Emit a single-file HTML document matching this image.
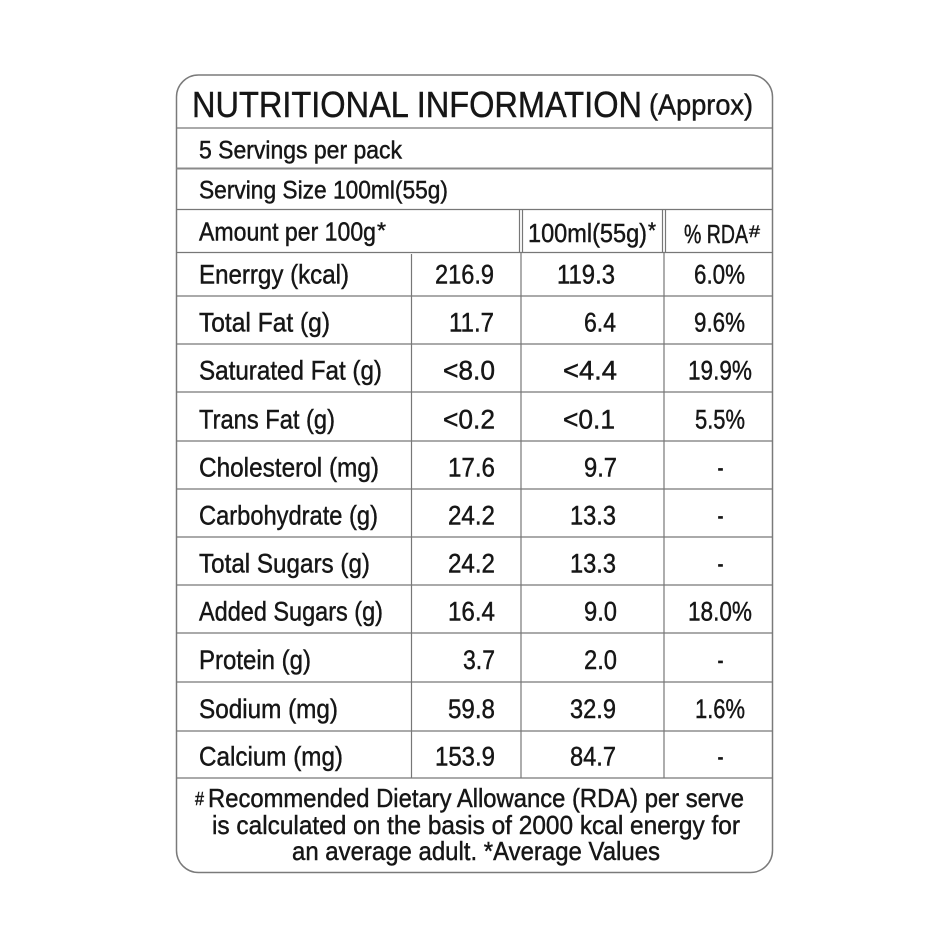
<!DOCTYPE html>
<html>
<head>
<meta charset="utf-8">
<style>
  html,body{margin:0;padding:0;background:#fff;}
  svg{display:block;}
  text{font-family:"Liberation Sans", Arial, sans-serif; fill:#161616; stroke:#161616; stroke-width:0.45;}
</style>
</head>
<body>
<svg width="940" height="940" viewBox="0 0 940 940" xmlns="http://www.w3.org/2000/svg">
  <rect x="0" y="0" width="940" height="940" fill="#fff"/>
  <!-- outer rounded box -->
  <rect x="176.5" y="75" width="596" height="797.5" rx="22" ry="22" fill="none" stroke="#7a7a7a" stroke-width="1.5"/>

  <!-- horizontal lines -->
  <g stroke="#777" stroke-width="1.3">
    <line x1="176.5" y1="128" x2="772.5" y2="128"/>
    <line x1="176.5" y1="168.5" x2="772.5" y2="168.5" stroke-width="2" stroke="#8a8a8a"/>
    <line x1="176.5" y1="209.5" x2="772.5" y2="209.5"/>
    <line x1="176.5" y1="252.5" x2="772.5" y2="252.5"/>
    <line x1="176.5" y1="296" x2="772.5" y2="296"/>
    <line x1="176.5" y1="344" x2="772.5" y2="344"/>
    <line x1="176.5" y1="392" x2="772.5" y2="392"/>
    <line x1="176.5" y1="441" x2="772.5" y2="441"/>
    <line x1="176.5" y1="489" x2="772.5" y2="489"/>
    <line x1="176.5" y1="537" x2="772.5" y2="537"/>
    <line x1="176.5" y1="585" x2="772.5" y2="585"/>
    <line x1="176.5" y1="633" x2="772.5" y2="633"/>
    <line x1="176.5" y1="682" x2="772.5" y2="682"/>
    <line x1="176.5" y1="731" x2="772.5" y2="731"/>
    <line x1="176.5" y1="778" x2="772.5" y2="778"/>
  </g>
  <!-- vertical lines -->
  <g stroke="#777" stroke-width="1.2">
    <line x1="411.5" y1="254" x2="411.5" y2="778"/>
    <line x1="519.5" y1="209.5" x2="519.5" y2="252.5"/>
    <line x1="522.5" y1="209.5" x2="522.5" y2="252.5"/>
    <line x1="521" y1="252.5" x2="521" y2="778"/>
    <line x1="662.5" y1="209.5" x2="662.5" y2="252.5"/>
    <line x1="665.5" y1="209.5" x2="665.5" y2="252.5"/>
    <line x1="664" y1="252.5" x2="664" y2="778"/>
  </g>

  <!-- title -->
  <text x="192" y="117" font-size="36" stroke-width="0.6" textLength="450" lengthAdjust="spacingAndGlyphs">NUTRITIONAL INFORMATION</text>
  <text x="649" y="114.5" font-size="29" textLength="104" lengthAdjust="spacingAndGlyphs">(Approx)</text>

  <text x="199" y="158.5" font-size="25" textLength="203" lengthAdjust="spacingAndGlyphs">5 Servings per pack</text>
  <text x="199" y="198.5" font-size="25" textLength="249" lengthAdjust="spacingAndGlyphs">Serving Size 100ml(55g)</text>

  <!-- header row -->
  <text x="199" y="240.5" font-size="26" textLength="177" lengthAdjust="spacingAndGlyphs">Amount per 100g</text>
  <text x="377" y="238" font-size="22" textLength="9" lengthAdjust="spacingAndGlyphs">*</text>
  <text x="528" y="242" font-size="26" textLength="119" lengthAdjust="spacingAndGlyphs">100ml(55g)</text>
  <text x="648" y="238" font-size="22" textLength="8" lengthAdjust="spacingAndGlyphs">*</text>
  <text x="684" y="243" font-size="26" textLength="64" lengthAdjust="spacingAndGlyphs">% RDA</text>
  <text x="749" y="237" font-size="17" textLength="11" lengthAdjust="spacingAndGlyphs">#</text>

  <!-- data rows -->
  <g font-size="27">
    <!-- Energy -->
    <text x="199" y="283.5" textLength="150" lengthAdjust="spacingAndGlyphs">Enerrgy (kcal)</text>
    <text x="435" y="283.5" textLength="59" lengthAdjust="spacingAndGlyphs">216.9</text>
    <text x="557" y="283.5" textLength="58" lengthAdjust="spacingAndGlyphs">119.3</text>
    <text x="694" y="283.5" textLength="51" lengthAdjust="spacingAndGlyphs">6.0%</text>

    <!-- Total Fat -->
    <text x="199" y="331.5" textLength="131" lengthAdjust="spacingAndGlyphs">Total Fat (g)</text>
    <text x="449" y="331.5" textLength="45" lengthAdjust="spacingAndGlyphs">11.7</text>
    <text x="584" y="331.5" textLength="32" lengthAdjust="spacingAndGlyphs">6.4</text>
    <text x="694" y="331.5" textLength="51" lengthAdjust="spacingAndGlyphs">9.6%</text>

    <!-- Saturated Fat -->
    <text x="199" y="379.5" textLength="183" lengthAdjust="spacingAndGlyphs">Saturated Fat (g)</text>
    <text x="443" y="379.5" textLength="52" lengthAdjust="spacingAndGlyphs">&lt;8.0</text>
    <text x="563" y="379.5" textLength="54" lengthAdjust="spacingAndGlyphs">&lt;4.4</text>
    <text x="688" y="379.5" textLength="64" lengthAdjust="spacingAndGlyphs">19.9%</text>

    <!-- Trans Fat -->
    <text x="199" y="428.5" textLength="136" lengthAdjust="spacingAndGlyphs">Trans Fat (g)</text>
    <text x="443" y="428.5" textLength="52" lengthAdjust="spacingAndGlyphs">&lt;0.2</text>
    <text x="563" y="428.5" textLength="52" lengthAdjust="spacingAndGlyphs">&lt;0.1</text>
    <text x="695" y="428.5" textLength="50" lengthAdjust="spacingAndGlyphs">5.5%</text>

    <!-- Cholesterol -->
    <text x="199" y="476.5" textLength="180" lengthAdjust="spacingAndGlyphs">Cholesterol (mg)</text>
    <text x="448" y="476.5" textLength="47" lengthAdjust="spacingAndGlyphs">17.6</text>
    <text x="584" y="476.5" textLength="33" lengthAdjust="spacingAndGlyphs">9.7</text>
    <text x="717.5" y="476.5" textLength="6" lengthAdjust="spacingAndGlyphs">-</text>

    <!-- Carbohydrate -->
    <text x="199" y="524.5" textLength="179" lengthAdjust="spacingAndGlyphs">Carbohydrate (g)</text>
    <text x="448" y="524.5" textLength="47" lengthAdjust="spacingAndGlyphs">24.2</text>
    <text x="570" y="524.5" textLength="46" lengthAdjust="spacingAndGlyphs">13.3</text>
    <text x="717.5" y="524.5" textLength="6" lengthAdjust="spacingAndGlyphs">-</text>

    <!-- Total Sugars -->
    <text x="199" y="572.5" textLength="171" lengthAdjust="spacingAndGlyphs">Total Sugars (g)</text>
    <text x="448" y="572.5" textLength="47" lengthAdjust="spacingAndGlyphs">24.2</text>
    <text x="570" y="572.5" textLength="46" lengthAdjust="spacingAndGlyphs">13.3</text>
    <text x="717.5" y="572.5" textLength="6" lengthAdjust="spacingAndGlyphs">-</text>

    <!-- Added Sugars -->
    <text x="199" y="620.5" textLength="184" lengthAdjust="spacingAndGlyphs">Added Sugars (g)</text>
    <text x="448" y="620.5" textLength="47" lengthAdjust="spacingAndGlyphs">16.4</text>
    <text x="584" y="620.5" textLength="33" lengthAdjust="spacingAndGlyphs">9.0</text>
    <text x="688" y="620.5" textLength="64" lengthAdjust="spacingAndGlyphs">18.0%</text>

    <!-- Protein -->
    <text x="199" y="669" textLength="112" lengthAdjust="spacingAndGlyphs">Protein (g)</text>
    <text x="463" y="669" textLength="32" lengthAdjust="spacingAndGlyphs">3.7</text>
    <text x="584" y="669" textLength="33" lengthAdjust="spacingAndGlyphs">2.0</text>
    <text x="717.5" y="669" textLength="6" lengthAdjust="spacingAndGlyphs">-</text>

    <!-- Sodium -->
    <text x="199" y="718" textLength="139" lengthAdjust="spacingAndGlyphs">Sodium (mg)</text>
    <text x="448" y="718" textLength="47" lengthAdjust="spacingAndGlyphs">59.8</text>
    <text x="570" y="718" textLength="46" lengthAdjust="spacingAndGlyphs">32.9</text>
    <text x="695" y="718" textLength="50" lengthAdjust="spacingAndGlyphs">1.6%</text>

    <!-- Calcium -->
    <text x="199" y="765.5" textLength="144" lengthAdjust="spacingAndGlyphs">Calcium (mg)</text>
    <text x="435" y="765.5" textLength="60" lengthAdjust="spacingAndGlyphs">153.9</text>
    <text x="570" y="765.5" textLength="46" lengthAdjust="spacingAndGlyphs">84.7</text>
    <text x="717.5" y="765.5" textLength="6" lengthAdjust="spacingAndGlyphs">-</text>
  </g>

  <!-- footer -->
  <text x="195" y="805" font-size="18" textLength="9" lengthAdjust="spacingAndGlyphs">#</text>
  <text x="208" y="807" font-size="26" textLength="536" lengthAdjust="spacingAndGlyphs">Recommended Dietary Allowance (RDA) per serve</text>
  <text x="212" y="834" font-size="26" textLength="528" lengthAdjust="spacingAndGlyphs">is calculated on the basis of 2000 kcal energy for</text>
  <text x="292" y="860" font-size="26" textLength="368" lengthAdjust="spacingAndGlyphs">an average adult. *Average Values</text>
</svg>
</body>
</html>
